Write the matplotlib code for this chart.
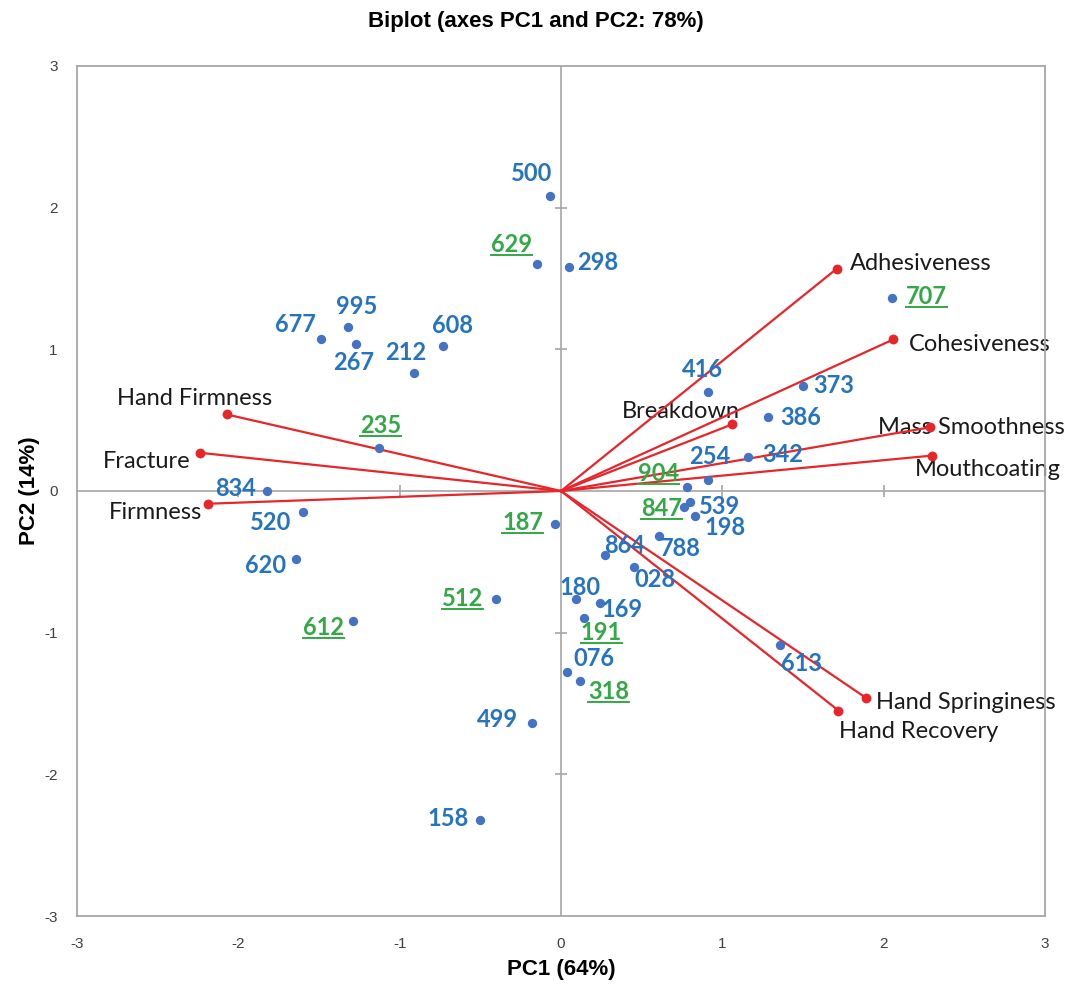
import matplotlib
matplotlib.use("Agg")
import matplotlib.pyplot as plt
from matplotlib.lines import Line2D

plt.rcParams["axes.unicode_minus"] = False

# observations (product codes) on PC1 / PC2
obs_names = ["500", "629", "298", "995", "677", "267", "608", "212", "235", "834",
             "520", "620", "612", "512", "187", "499", "158", "180", "169", "191",
             "076", "318", "864", "028", "788", "847", "539", "198", "904", "254",
             "342", "386", "373", "416", "707", "613"]
obs_x = [-0.07, -0.15, 0.05, -1.32, -1.49, -1.27, -0.73, -0.91, -1.13, -1.82,
         -1.60, -1.64, -1.29, -0.40, -0.04, -0.18, -0.50, 0.09, 0.24, 0.14,
         0.04, 0.12, 0.27, 0.45, 0.61, 0.76, 0.80, 0.83, 0.78, 0.91,
         1.16, 1.28, 1.50, 0.91, 2.05, 1.36]
obs_y = [2.08, 1.60, 1.58, 1.16, 1.07, 1.04, 1.02, 0.83, 0.30, 0.00,
         -0.15, -0.48, -0.92, -0.76, -0.23, -1.64, -2.32, -0.76, -0.79, -0.90,
         -1.28, -1.34, -0.45, -0.54, -0.32, -0.11, -0.08, -0.18, 0.03, 0.08,
         0.24, 0.52, 0.74, 0.70, 1.36, -1.09]
# codes shown green and underlined
highlighted = {"629", "235", "612", "512", "187", "191", "318", "847", "904", "707"}

# variable loadings
var_names = ["Adhesiveness", "Cohesiveness", "Breakdown", "Mass Smoothness", "Mouthcoating",
             "Hand Springiness", "Hand Recovery", "Hand Firmness", "Fracture", "Firmness"]
var_x = [1.71, 2.06, 1.06, 2.29, 2.30, 1.89, 1.72, -2.07, -2.24, -2.19]
var_y = [1.57, 1.07, 0.47, 0.45, 0.25, -1.46, -1.55, 0.54, 0.27, -0.09]

# label offsets in pixels (dx, dy, ha)
obs_offsets = {
    "500": (-18, 23), "629": (-25, 20), "298": (29, 5), "995": (9, 20), "677": (-25, 15),
    "267": (-2, -19), "608": (9, 21), "212": (-8, 21), "235": (2, 23), "834": (-32, 2),
    "520": (-32, -10), "620": (-31, -7), "612": (-29, -6), "512": (-34, 0), "187": (-32, 1),
    "499": (-34, 4), "158": (-32, 1), "180": (5, 11), "169": (22, -7), "191": (18, -14),
    "076": (26, 14), "318": (28, -11), "864": (20, 9), "028": (21, -12), "788": (21, -12),
    "847": (-22, -2), "539": (29, -4), "198": (30, -11), "904": (-28, 13), "254": (2, 23),
    "342": (35, 2), "386": (33, 0), "373": (31, 1), "416": (-5, 22), "707": (35, 2),
    "613": (21, -18),
}
var_offsets = {
    "Adhesiveness": (13, 5, "left"), "Cohesiveness": (16, -5, "left"),
    "Breakdown": (-51, 13, "center"), "Mass Smoothness": (41, 0, "center"),
    "Mouthcoating": (56, -14, "center"), "Hand Springiness": (10, -5, "left"),
    "Hand Recovery": (80, -21, "center"), "Hand Firmness": (-32, 16, "center"),
    "Fracture": (-9, -9, "right"), "Firmness": (-52, -9, "center"),
}

W, H = 1072, 985
grey = "#a6a6a6"
blue_dot = "#4472c4"
blue_txt = "#2673c0"
green_txt = "#33a845"
red = "#e8262a"
narrow = ["Liberation Sans Narrow", "Liberation Sans", "DejaVu Sans"]

fig = plt.figure(figsize=(W / 100, H / 100), dpi=100)
ax = fig.add_axes([77 / W, 1 - 916 / H, (1045 - 77) / W, (916 - 66) / H])
ax.set_xlim(-3, 3)
ax.set_ylim(-3, 3)
ax.set_xticks(range(-3, 4))
ax.set_yticks(range(-3, 4))
ax.tick_params(length=0, labelsize=11, labelcolor="#404040")
ax.tick_params(axis="x", pad=15)
ax.tick_params(axis="y", pad=14)
for lab in ax.get_xticklabels() + ax.get_yticklabels():
    lab.set_family(narrow)
for s in ax.spines.values():
    s.set_color(grey)
    s.set_linewidth(1.3)

# zero axes with cross ticks
ax.axhline(0, color=grey, lw=1.2, zorder=1)
ax.axvline(0, color=grey, lw=1.2, zorder=1)
ax.plot([0, 0, 0, 0], [-2, -1, 1, 2], ls="none", marker="_", ms=8, mew=1.2, color=grey, zorder=1)
ax.plot([-2, -1, 1, 2], [0, 0, 0, 0], ls="none", marker="|", ms=8, mew=1.2, color=grey, zorder=1)

# variable vectors
for name, x, y in zip(var_names, var_x, var_y):
    ax.plot([0, x], [0, y], color=red, lw=1.6, zorder=3)
    dx, dy, ha = var_offsets[name]
    ax.annotate(name, (x, y), xytext=(dx, dy), textcoords="offset pixels",
                ha=ha, va="center", fontsize=17, color="#1a1a1a", family="Lato", zorder=2)
ax.scatter(var_x, var_y, s=50, color=red, zorder=4, linewidths=0)

# observations
ax.scatter(obs_x, obs_y, s=45, color=blue_dot, zorder=5, linewidths=0)
green_texts = []
for name, x, y in zip(obs_names, obs_x, obs_y):
    dx, dy = obs_offsets[name]
    col = green_txt if name in highlighted else blue_txt
    t = ax.annotate(name, (x, y), xytext=(dx, dy), textcoords="offset pixels",
                    ha="center", va="center", fontsize=17, fontweight="bold",
                    color=col, family="Lato", zorder=6)
    if name in highlighted:
        green_texts.append(t)

fig.text(0.5, 1 - 21 / H, "Biplot (axes PC1 and PC2: 78%)", ha="center", va="center",
         fontsize=16, fontweight="bold", family=narrow)
fig.text(561 / W, 1 - 970 / H, "PC1 (64%)", ha="center", va="center",
         fontsize=16, fontweight="bold", family=narrow)
fig.text(30 / W, 1 - 491 / H, "PC2 (14%)", ha="center", va="center", rotation=90,
         fontsize=16, fontweight="bold", family=narrow)

# underline the highlighted codes
fig.canvas.draw()
inv = fig.transFigure.inverted()
for t in green_texts:
    bb = t.get_window_extent()
    (x0, y0), (x1, _) = inv.transform([(bb.x0, bb.y0 + 1), (bb.x1, bb.y0 + 1)])
    fig.add_artist(Line2D([x0, x1], [y0, y0], transform=fig.transFigure,
                          color=green_txt, lw=1.4))

fig.savefig("out.png", dpi=100)
